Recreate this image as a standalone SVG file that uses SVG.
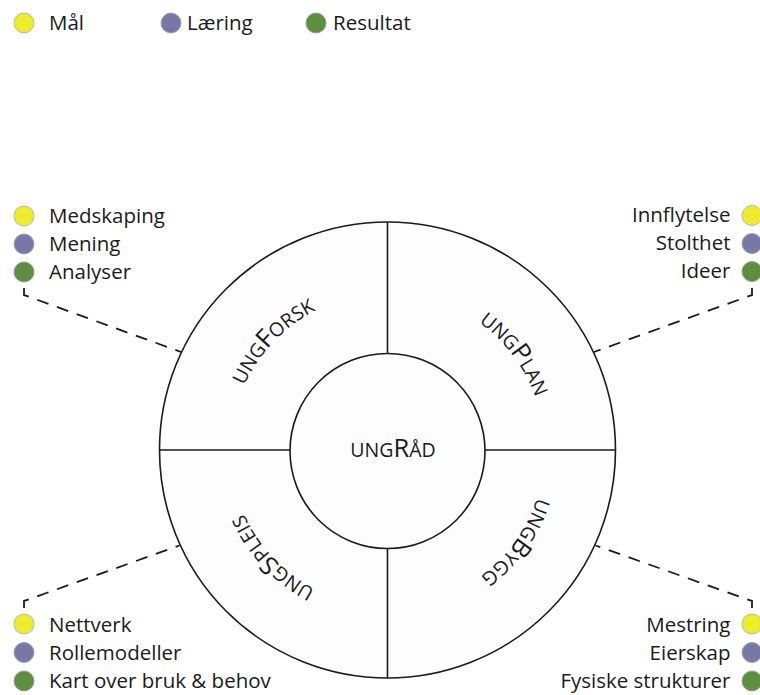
<svg xmlns="http://www.w3.org/2000/svg" width="760" height="695" viewBox="0 0 760 695">
<style>
.t{font-family:"Open Sans","Liberation Sans",sans-serif;font-size:20.5px;fill:#1a1a1a}
.r{text-anchor:end}
.y{fill:#ecec2c;stroke:#b8b8a0;stroke-width:1}
.p{fill:#7878a8;stroke:#a0a0b0;stroke-width:1}
.g{fill:#5e8f40;stroke:#90a090;stroke-width:1}
.ring{fill:#fdfdfd;stroke:#1a1a1a;stroke-width:1.6}
.div{stroke:#1a1a1a;stroke-width:1.6;fill:none}
.dash{fill:none;stroke:#1a1a1a;stroke-width:1.8;stroke-dasharray:12 9}
.lab{font-family:"Open Sans","Liberation Sans",sans-serif;font-size:19.5px;fill:#1a1a1a}
.big{font-size:25.5px}
</style>
<defs>
<path id="arc" d="M230.5,450 A157,157 0 1 1 544.5,450 A157,157 0 1 1 230.5,450"/>
</defs>
<rect width="760" height="695" fill="#ffffff"/>
<g id="legend">
<circle class="y" cx="24" cy="23" r="10"/><text class="t" x="49" y="29.5">Mål</text>
<circle class="p" cx="171" cy="23" r="10"/><text class="t" x="187" y="29.5">Læring</text>
<circle class="g" cx="316" cy="23" r="10"/><text class="t" x="333" y="29.5">Resultat</text>
</g>
<g id="connectors">
<path class="dash" d="M24,288 L24,295 L181,352"/>
<path class="dash" d="M752,288 L752,295 L594,352"/>
<path class="dash" d="M24,608 L24,601 L179.5,545.5"/>
<path class="dash" d="M752,608 L752,601 L595.5,545.5"/>
</g>
<g id="wheel">
<circle class="ring" cx="387.5" cy="450" r="228"/>
<line class="div" x1="387.5" y1="222" x2="387.5" y2="678"/>
<line class="div" x1="159.5" y1="450" x2="615.5" y2="450"/>
<circle class="ring" cx="387.5" cy="451" r="97.5"/>
</g>
<g id="ungRad"><text class="lab" x="393" y="457" text-anchor="middle">UNG<tspan class="big">R</tspan>ÅD</text></g>
<g id="ungForsk"><text class="lab"><textPath href="#arc" startOffset="12.1%" text-anchor="middle">UNG<tspan class="big">F</tspan>ORSK</textPath></text></g>
<g id="ungPlan"><text class="lab"><textPath href="#arc" startOffset="39.7%" text-anchor="middle">UNG<tspan class="big">P</tspan>LAN</textPath></text></g>
<g id="ungBygg"><text class="lab"><textPath href="#arc" startOffset="59.9%" text-anchor="middle">UNG<tspan class="big">B</tspan>YGG</textPath></text></g>
<g id="ungSpleis"><text class="lab"><textPath href="#arc" startOffset="88%" text-anchor="middle">UNG<tspan class="big">S</tspan>PLEIS</textPath></text></g>
<g id="topLeft">
<circle class="y" cx="24" cy="216" r="10"/><text class="t" x="49" y="223">Medskaping</text>
<circle class="p" cx="24" cy="244" r="10"/><text class="t" x="49" y="250.5">Mening</text>
<circle class="g" cx="24" cy="272" r="10"/><text class="t" x="49" y="278.5">Analyser</text>
</g>
<g id="topRight">
<circle class="y" cx="752" cy="215.5" r="10"/><text class="t r" x="730.5" y="222">Innflytelse</text>
<circle class="p" cx="752" cy="243.5" r="10"/><text class="t r" x="730.5" y="250">Stolthet</text>
<circle class="g" cx="752" cy="271.5" r="10"/><text class="t r" x="730.5" y="278">Ideer</text>
</g>
<g id="bottomLeft">
<circle class="y" cx="24" cy="624" r="10"/><text class="t" x="49" y="631.5">Nettverk</text>
<circle class="p" cx="24" cy="652.5" r="10"/><text class="t" x="49" y="660">Rollemodeller</text>
<circle class="g" cx="24" cy="681" r="10"/><text class="t" x="49" y="688">Kart over bruk &amp; behov</text>
</g>
<g id="bottomRight">
<circle class="y" cx="752" cy="624" r="10"/><text class="t r" x="730.5" y="631.5">Mestring</text>
<circle class="p" cx="752" cy="652.5" r="10"/><text class="t r" x="730.5" y="659.5">Eierskap</text>
<circle class="g" cx="752" cy="681" r="10"/><text class="t r" x="730.5" y="688">Fysiske strukturer</text>
</g>
</svg>
